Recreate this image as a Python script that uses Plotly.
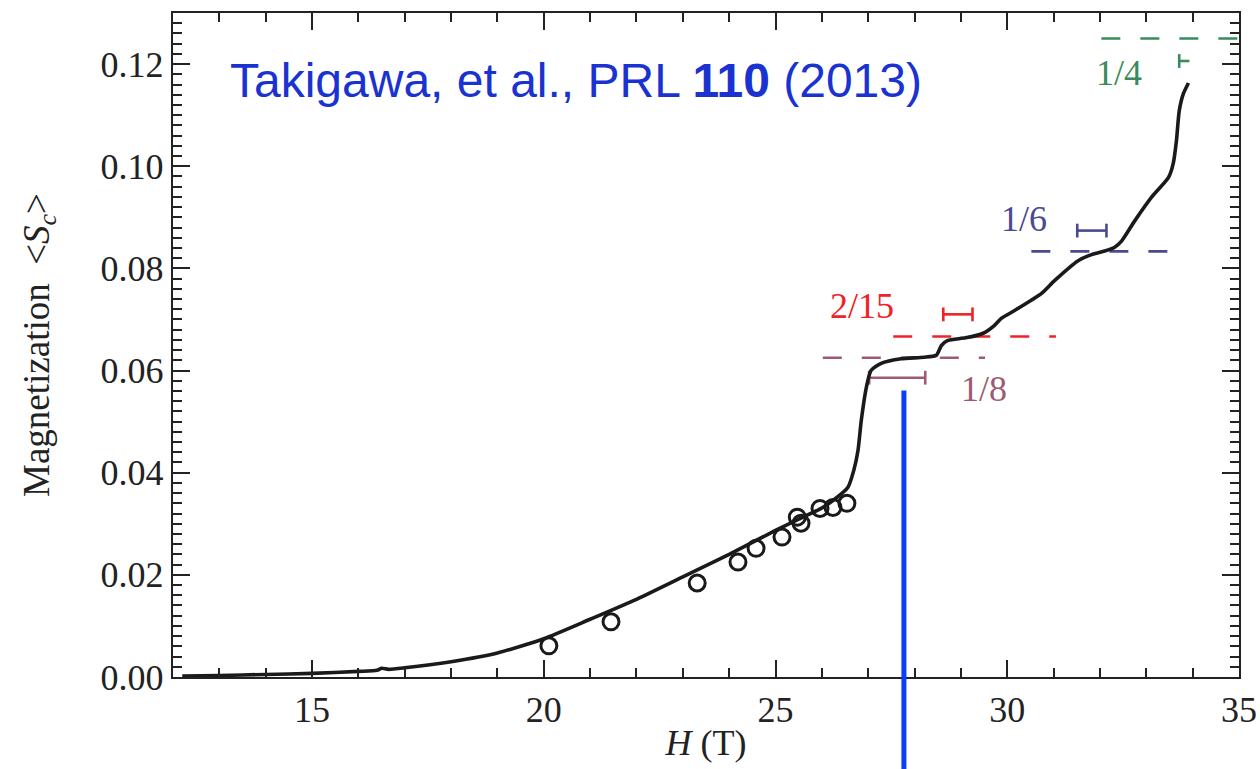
import plotly.graph_objects as go

# Magnetization curve (calculation), field H in tesla
H_curve = [12.2, 13.0, 14.0, 15.0, 16.0, 16.4, 16.5, 16.65, 17.0, 18.0, 19.0, 20.0,
           21.0, 22.0, 23.0, 24.0, 25.0, 25.5, 26.0, 26.26, 26.56, 26.69, 26.78,
           26.85, 26.96, 27.06, 27.28, 27.71, 28.2, 28.47, 28.58, 28.72, 29.1,
           29.48, 29.72, 29.87, 30.15, 30.74, 31.02, 31.53, 31.82, 32.1, 32.31,
           32.47, 32.75, 33.11, 33.48, 33.58, 33.65, 33.71, 33.8, 33.91]
M_curve = [0.0002, 0.0003, 0.0005, 0.0007, 0.0011, 0.0013, 0.0017, 0.0015, 0.0018,
           0.0030, 0.0047, 0.0075, 0.0113, 0.0152, 0.0196, 0.0240, 0.0287, 0.0309,
           0.0331, 0.0347, 0.0371, 0.0405, 0.0444, 0.0502, 0.0567, 0.0600, 0.0614,
           0.0623, 0.0626, 0.0630, 0.0649, 0.0659, 0.0664, 0.0673, 0.0688, 0.0702,
           0.0717, 0.0751, 0.0776, 0.0815, 0.0827, 0.0834, 0.0841, 0.0854, 0.0893,
           0.0939, 0.0978, 0.1005, 0.1050, 0.1108, 0.1142, 0.1163]

# Measured points
H_exp = [20.11, 21.45, 23.31, 24.19, 24.58, 25.14, 25.47, 25.55, 25.96, 26.24, 26.54]
M_exp = [0.0061, 0.0108, 0.0184, 0.0225, 0.0252, 0.0274, 0.0313, 0.0301, 0.0330, 0.0332, 0.0340]

# Plateaus: label, <S_c> value, dashed-line field range
plateau_labels = ["1/8", "2/15", "1/6", "1/4"]
plateau_values = [0.0625, 2 / 15 / 2, 1 / 6 / 2, 0.125]
plateau_h_start = [26.02, 27.54, 30.52, 32.03]
plateau_h_end = [29.52, 31.05, 33.50, 35.0]

# Plateau field ranges (horizontal bars)
range_h_lo = [27.02, 28.62, 31.51, 33.71]
range_h_hi = [28.23, 29.25, 32.14, 33.93]
range_m = [0.0586, 0.0710, 0.0874, 0.1206]
range_right_cap = [True, True, True, False]

H_marker = 27.77      # vertical marker field
M_marker_top = 0.0561

X_RANGE = [12, 35]
Y_RANGE = [0, 0.13]

colors = ["#9c5b70", "#ee2228", "#4a4a8e", "#3b8a5c"]
label_pos = [(29.5, 0.0563), (26.87, 0.0727), (30.37, 0.0897), (32.42, 0.1183)]

SERIF = "Liberation Serif, Times New Roman, serif"
SANS = "Liberation Sans, Arial, sans-serif"
INK = "#222222"

fig = go.Figure()

# dashed plateau levels
for lab, val, h0, h1, col in zip(plateau_labels, plateau_values, plateau_h_start,
                                 plateau_h_end, colors):
    fig.add_trace(go.Scatter(x=[h0, h1], y=[val, val], mode="lines",
                             line=dict(color=col, width=2.6, dash="19px,20px"),
                             hoverinfo="skip", showlegend=False))

# field-range bars with end caps
cap = 0.00135
for lo, hi, m, rc, col in zip(range_h_lo, range_h_hi, range_m, range_right_cap, colors):
    xs = [lo, lo, None, lo, hi]
    ys = [m - cap, m + cap, None, m, m]
    if rc:
        xs += [None, hi, hi]
        ys += [None, m - cap, m + cap]
    fig.add_trace(go.Scatter(x=xs, y=ys, mode="lines",
                             line=dict(color=col, width=2.6),
                             hoverinfo="skip", showlegend=False))

# calculated curve
fig.add_trace(go.Scatter(x=H_curve, y=M_curve, mode="lines",
                         line=dict(color="#1a1a1a", width=3.6, shape="spline", smoothing=0.6),
                         showlegend=False))

# experimental points
fig.add_trace(go.Scatter(x=H_exp, y=M_exp, mode="markers",
                         marker=dict(symbol="circle-open", size=16, color="#1a1a1a",
                                     line=dict(width=3, color="#1a1a1a")),
                         showlegend=False))

# vertical marker line extending below the axis
fig.add_shape(type="line", xref="x", yref="paper",
              x0=H_marker, x1=H_marker, y0=-0.14, y1=M_marker_top / Y_RANGE[1],
              line=dict(color="#0a3cff", width=5))

for lab, (lx, ly), col in zip(plateau_labels, label_pos, colors):
    fig.add_annotation(x=lx, y=ly, text=lab, showarrow=False,
                       font=dict(family=SERIF, size=36, color=col),
                       xanchor="center", yanchor="middle")

fig.add_annotation(x=13.19, y=0.1167, text="Takigawa, et al., PRL <b>110</b> (2013)",
                   showarrow=False, xanchor="left", yanchor="middle",
                   font=dict(family=SANS, size=48, color="#1a33d0"))

axis_common = dict(showgrid=False, zeroline=False, showline=True, linewidth=2.4,
                   linecolor=INK, mirror="ticks", ticks="inside", ticklen=17,
                   tickwidth=2, tickcolor=INK, automargin=False,
                   tickfont=dict(family=SERIF, size=36, color=INK))

fig.update_xaxes(range=X_RANGE, tick0=0, dtick=5,
                 minor=dict(dtick=1, ticks="inside", ticklen=9, tickwidth=2, tickcolor=INK),
                 title=dict(text="<i>H</i> (T)", font=dict(family=SERIF, size=36, color=INK),
                            standoff=0),
                 **axis_common)
fig.update_yaxes(range=Y_RANGE, tick0=0, dtick=0.02, tickformat=".2f",
                 minor=dict(dtick=0.002, ticks="inside", ticklen=9, tickwidth=2, tickcolor=INK),
                 title=dict(text="Magnetization\u00a0\u00a0&lt;<i>S</i><sub><i>c</i></sub>&gt;",
                            font=dict(family=SERIF, size=37, color=INK), standoff=40),
                 **axis_common)

fig.update_layout(width=1260, height=769, margin=dict(l=173, r=21, t=13, b=92),
                  paper_bgcolor="white", plot_bgcolor="white")

fig.write_html("out.html")
